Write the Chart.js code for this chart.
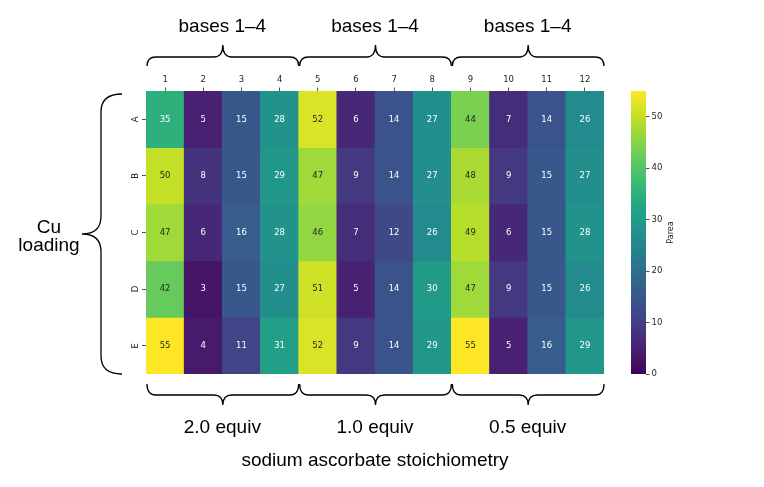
<!DOCTYPE html>
<html>
<head>
<meta charset="utf-8">
<script src="https://cdn.jsdelivr.net/npm/chart.js@4.4.1/dist/chart.umd.min.js"></script>
<style>
  html, body { margin: 0; padding: 0; background: #fff; }
  #wrap { position: relative; width: 764px; height: 487px; }
  #wrap canvas { position: absolute; left: 0; top: 0; }
</style>
</head>
<body>
<div id="wrap">
  <canvas id="heat" width="764" height="487"></canvas>
  <canvas id="cbar" width="764" height="487"></canvas>
</div>
<script>
// plate layout: columns 1-12, rows A-E
const columns = ['1', '2', '3', '4', '5', '6', '7', '8', '9', '10', '11', '12'];
const rows = ['A', 'B', 'C', 'D', 'E'];

const rowA = [35, 5, 15, 28, 52, 6, 14, 27, 44, 7, 14, 26];
const rowB = [50, 8, 15, 29, 47, 9, 14, 27, 48, 9, 15, 27];
const rowC = [47, 6, 16, 28, 46, 7, 12, 26, 49, 6, 15, 28];
const rowD = [42, 3, 15, 27, 51, 5, 14, 30, 47, 9, 15, 26];
const rowE = [55, 4, 11, 31, 52, 9, 14, 29, 55, 5, 16, 29];
const values = [rowA, rowB, rowC, rowD, rowE];

const topGroups = ['bases 1–4', 'bases 1–4', 'bases 1–4'];
const bottomGroups = ['2.0 equiv', '1.0 equiv', '0.5 equiv'];
const bottomTitle = 'sodium ascorbate stoichiometry';
const leftTitle = ['Cu', 'loading'];

const cbarRange = [0, 55];
const cbarTicks = [0, 10, 20, 30, 40, 50];
const cbarLabel = 'Parea';

// viridis, 11 stops
const viridis = ['#440154', '#482475', '#414487', '#355f8d', '#2a788e', '#21918c',
                 '#22a884', '#44bf70', '#7ad151', '#bddf26', '#fde725'];

function hexRgb(h) {
  return [parseInt(h.slice(1, 3), 16), parseInt(h.slice(3, 5), 16), parseInt(h.slice(5, 7), 16)];
}

function cmapRgb(v) {
  let t = (v - cbarRange[0]) / (cbarRange[1] - cbarRange[0]);
  t = Math.max(0, Math.min(1, t));
  const p = t * (viridis.length - 1);
  const i = Math.min(Math.floor(p), viridis.length - 2);
  const f = p - i;
  const a = hexRgb(viridis[i]), b = hexRgb(viridis[i + 1]);
  return a.map((c, k) => Math.round(c + (b[k] - c) * f));
}

function rgbCss(c) { return `rgb(${c[0]},${c[1]},${c[2]})`; }

function luminance(c) {
  const l = c.map(v => {
    v /= 255;
    return v <= 0.03928 ? v / 12.92 : Math.pow((v + 0.055) / 1.055, 2.4);
  });
  return 0.2126 * l[0] + 0.7152 * l[1] + 0.0722 * l[2];
}

const tickFont = { family: 'DejaVu Sans', size: 8.5 };
const tickColor = '#262626';
const bigFont = '19px "Liberation Sans", Arial, sans-serif';

function brace(ctx, s1, s2, p0, p1, p2, r, vertical) {
  const pt = (s, p) => vertical ? [p, s] : [s, p];
  const sm = (s1 + s2) / 2;
  ctx.beginPath();
  ctx.moveTo(...pt(s1, p0));
  ctx.quadraticCurveTo(...pt(s1, p1), ...pt(s1 + r, p1));
  ctx.lineTo(...pt(sm - r, p1));
  ctx.quadraticCurveTo(...pt(sm, p1), ...pt(sm, p2));
  ctx.quadraticCurveTo(...pt(sm, p1), ...pt(sm + r, p1));
  ctx.lineTo(...pt(s2 - r, p1));
  ctx.quadraticCurveTo(...pt(s2, p1), ...pt(s2, p0));
  ctx.stroke();
}

const decorations = {
  id: 'decorations',
  afterDatasetsDraw(chart) {
    const ctx = chart.ctx;
    ctx.save();
    ctx.font = '8.5px "DejaVu Sans"';
    ctx.textAlign = 'center';
    ctx.textBaseline = 'middle';
    chart.data.datasets.forEach((ds, i) => {
      chart.getDatasetMeta(i).data.forEach((bar, j) => {
        const v = values[i][j];
        ctx.fillStyle = luminance(cmapRgb(v)) > 0.408 ? '#262626' : '#ffffff';
        ctx.fillText(String(v), bar.x, (bar.y + bar.base) / 2);
      });
    });
    ctx.restore();
  },
  afterDraw(chart) {
    const ctx = chart.ctx;
    const a = chart.chartArea;
    const yScale = chart.scales.y;
    ctx.save();

    // row labels, rotated like matplotlib
    ctx.font = '8.5px "DejaVu Sans"';
    ctx.fillStyle = tickColor;
    ctx.textAlign = 'center';
    ctx.textBaseline = 'middle';
    rows.forEach((r, i) => {
      ctx.save();
      ctx.translate(a.left - 10, yScale.getPixelForValue(i + 0.5));
      ctx.rotate(-Math.PI / 2);
      ctx.fillText(r, 0, 0);
      ctx.restore();
    });

    // braces
    ctx.strokeStyle = '#000';
    ctx.lineWidth = 1.3;
    const groupW = (a.right - a.left) / topGroups.length;
    topGroups.forEach((g, k) => {
      const x1 = a.left + k * groupW + 1, x2 = a.left + (k + 1) * groupW;
      brace(ctx, x1, x2, a.top - 25, a.top - 34, a.top - 46, 9, false);
    });
    bottomGroups.forEach((g, k) => {
      const x1 = a.left + k * groupW + 1, x2 = a.left + (k + 1) * groupW;
      brace(ctx, x1, x2, a.bottom + 10, a.bottom + 21, a.bottom + 31, 9, false);
    });
    brace(ctx, a.top + 3, a.bottom, a.left - 24, a.left - 45, a.left - 64, 18, true);

    // group labels
    ctx.font = bigFont;
    ctx.fillStyle = '#000';
    ctx.textAlign = 'center';
    ctx.textBaseline = 'alphabetic';
    topGroups.forEach((g, k) => {
      ctx.fillText(g, a.left + (k + 0.5) * groupW, 32);
    });
    bottomGroups.forEach((g, k) => {
      ctx.fillText(g, a.left + (k + 0.5) * groupW, 433);
    });
    ctx.fillText(bottomTitle, (a.left + a.right) / 2, 466);
    ctx.fillText(leftTitle[0], 49, 233);
    ctx.fillText(leftTitle[1], 49, 251);
    ctx.restore();
  }
};

const datasets = rows.map((r, i) => ({
  label: r,
  data: values[i].map(() => [i, i + 1]),
  backgroundColor: values[i].map(v => rgbCss(cmapRgb(v))),
  borderWidth: 0,
  grouped: false,
  barPercentage: 1,
  categoryPercentage: 1
}));

new Chart(document.getElementById('heat'), {
  type: 'bar',
  data: { labels: columns, datasets: datasets },
  options: {
    responsive: false,
    animation: false,
    layout: { padding: { left: 126, top: 66, right: 160, bottom: 113 } },
    plugins: { legend: { display: false }, tooltip: { enabled: false } },
    scales: {
      x: {
        position: 'top',
        offset: true,
        grid: { offset: false, drawOnChartArea: false, tickLength: 3.5, color: tickColor, tickColor: tickColor, lineWidth: 0.8 },
        border: { display: false },
        ticks: { font: tickFont, color: tickColor, padding: 3, maxRotation: 0, autoSkip: false },
        afterFit: s => { s.height = 25; }
      },
      y: {
        min: 0,
        max: rows.length,
        reverse: true,
        afterBuildTicks: s => { s.ticks = rows.map((r, i) => ({ value: i + 0.5 })); },
        grid: { drawOnChartArea: false, tickLength: 4, color: tickColor, tickColor: tickColor, lineWidth: 0.8 },
        border: { display: false },
        ticks: { display: false },
        afterFit: s => { s.width = 20; }
      }
    }
  },
  plugins: [decorations]
});

function cbarGradient(context) {
  const area = context.chart.chartArea;
  if (!area) return viridis[5];
  const g = context.chart.ctx.createLinearGradient(0, area.bottom, 0, area.top);
  viridis.forEach((c, i) => g.addColorStop(i / (viridis.length - 1), c));
  return g;
}

new Chart(document.getElementById('cbar'), {
  type: 'bar',
  data: {
    labels: [cbarLabel],
    datasets: [{ data: [cbarRange], backgroundColor: cbarGradient, borderWidth: 0, barPercentage: 1, categoryPercentage: 1 }]
  },
  options: {
    responsive: false,
    animation: false,
    layout: { padding: { left: 631, top: 91, right: 88, bottom: 113 } },
    plugins: { legend: { display: false }, tooltip: { enabled: false } },
    scales: {
      x: { display: false },
      y: {
        position: 'right',
        min: cbarRange[0],
        max: cbarRange[1],
        afterBuildTicks: s => { s.ticks = cbarTicks.map(v => ({ value: v })); },
        ticks: { font: tickFont, color: tickColor, padding: 2 },
        grid: { drawOnChartArea: false, tickLength: 3.5, color: tickColor, tickColor: tickColor, lineWidth: 0.8 },
        border: { display: false },
        afterFit: s => { s.width = 30; }
      }
    }
  },
  plugins: [{
    id: 'cbarTitle',
    afterDraw(chart) {
      const ctx = chart.ctx;
      const a = chart.chartArea;
      ctx.save();
      ctx.font = '8px "DejaVu Sans"';
      ctx.fillStyle = tickColor;
      ctx.textAlign = 'center';
      ctx.textBaseline = 'middle';
      ctx.translate(a.right + 25, (a.top + a.bottom) / 2);
      ctx.rotate(-Math.PI / 2);
      ctx.fillText(cbarLabel, 0, 0);
      ctx.restore();
    }
  }]
});
</script>
</body>
</html>
